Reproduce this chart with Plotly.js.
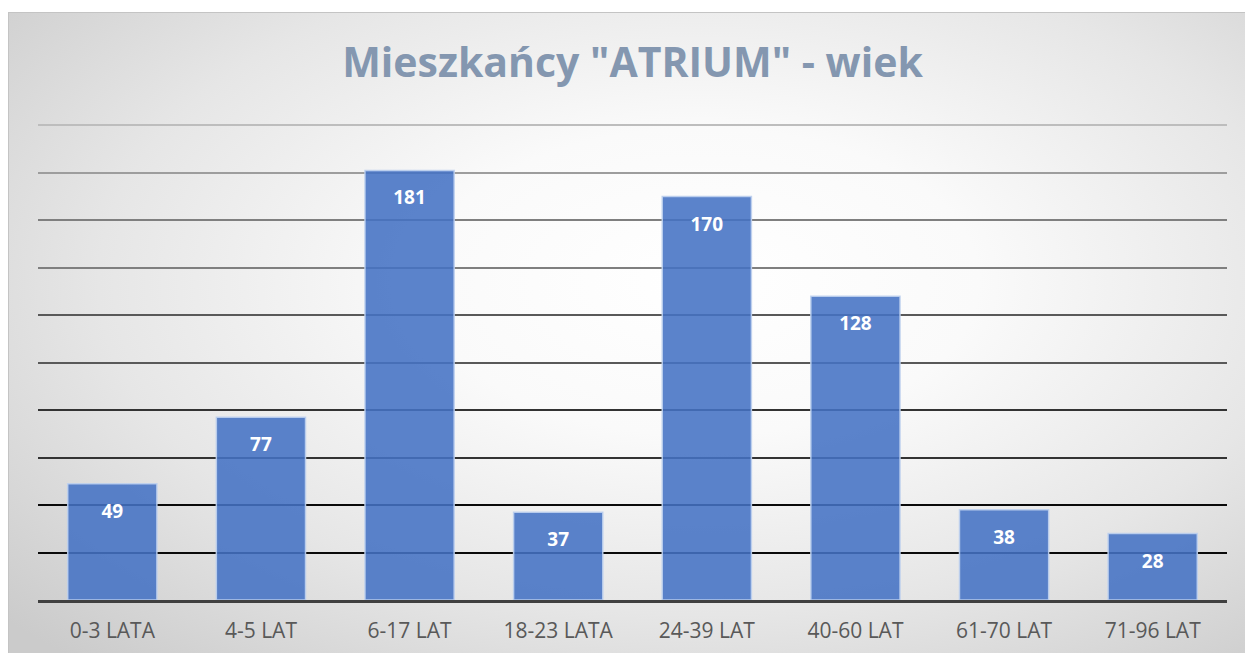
<!DOCTYPE html>
<html>
<head>
<meta charset="utf-8">
<script src="https://cdn.plot.ly/plotly-3.0.1.min.js"></script>
<style>
  html, body { margin: 0; padding: 0; background: #ffffff; }
  #wrap { position: relative; width: 1247px; height: 655px; overflow: hidden; background: #ffffff; }
  #frame { position: absolute; left: 8px; top: 12px; width: 1237px; height: 641px;
    border-top: 1px solid #c4c4c4; border-left: 1px solid #c4c4c4; box-sizing: border-box;
    background: radial-gradient(ellipse 75% 80% at 56% 42%, #ffffff 0%, #fafafa 30%, #e6e6e6 65%, #cbcbcb 100%); }
  #chart { position: absolute; left: 0; top: 0; width: 1247px; height: 655px; }
</style>
</head>
<body>
<div id="wrap">
  <div id="frame"></div>
  <div id="chart"></div>
</div>
<script>
const categories = ["0-3 LATA", "4-5 LAT", "6-17 LAT", "18-23 LATA", "24-39 LAT", "40-60 LAT", "61-70 LAT", "71-96 LAT"];
const values = [49, 77, 181, 37, 170, 128, 38, 28];
const chartTitle = 'Mieszkańcy "ATRIUM" - wiek';

const FONT = '"Open Sans", "Noto Sans", sans-serif';
const YRANGE = [0, 201];

const traces = [
  {
    type: 'bar',
    x: categories,
    y: values,
    marker: { color: 'rgba(68,114,196,0.88)', line: { color: 'rgba(190,208,238,0.9)', width: 1.5 } },
    hoverinfo: 'skip'
  },
  {
    type: 'scatter',
    mode: 'markers+text',
    x: categories,
    y: values,
    text: values.map(String),
    textposition: 'bottom center',
    textfont: { family: FONT, size: 19, color: '#ffffff', weight: 'bold' },
    marker: { size: 30, opacity: 0 },
    hoverinfo: 'skip',
    cliponaxis: false
  }
];

// invisible helper traces so every grid axis gets drawn
['y2', 'y3', 'y4', 'y5', 'y6'].forEach(function (ax) {
  traces.push({ type: 'scatter', mode: 'none', x: categories, y: values, yaxis: ax, hoverinfo: 'skip', showlegend: false });
});

function gridAxis(vals, color) {
  return {
    overlaying: 'y', range: YRANGE, tickvals: vals, showticklabels: false,
    showgrid: true, gridcolor: color, gridwidth: 2, zeroline: false, showline: false, ticks: ''
  };
}

const layout = {
  width: 1247, height: 655,
  margin: { l: 38, r: 20, t: 123, b: 55 },
  paper_bgcolor: 'rgba(0,0,0,0)',
  plot_bgcolor: 'rgba(0,0,0,0)',
  showlegend: false,
  bargap: 0.4,
  title: {
    text: '<b>' + chartTitle + '</b>',
    font: { family: FONT, size: 41, color: '#8497B0' },
    x: 0.5, xref: 'paper', xanchor: 'center',
    y: 1 - 63 / 655, yref: 'container', yanchor: 'middle'
  },
  xaxis: {
    type: 'category', range: [-0.5, categories.length - 0.5],
    tickfont: { family: FONT, size: 21, color: '#595959' },
    ticks: '', showline: true, linecolor: '#404040', linewidth: 3,
    ticklabelstandoff: 10, showgrid: false
  },
  yaxis: {
    range: YRANGE, tickvals: [20, 40], showticklabels: false,
    showgrid: true, gridcolor: '#0a0a0a', gridwidth: 2,
    zeroline: false, showline: false, ticks: ''
  },
  yaxis2: gridAxis([60, 80], '#333333'),
  yaxis3: gridAxis([100, 120], '#595959'),
  yaxis4: gridAxis([140, 160], '#7f7f7f'),
  yaxis5: gridAxis([180], '#9d9d9d'),
  yaxis6: gridAxis([200], '#bdbdbd')
};

Plotly.newPlot('chart', traces, layout, { displayModeBar: false, staticPlot: true });
</script>
</body>
</html>
